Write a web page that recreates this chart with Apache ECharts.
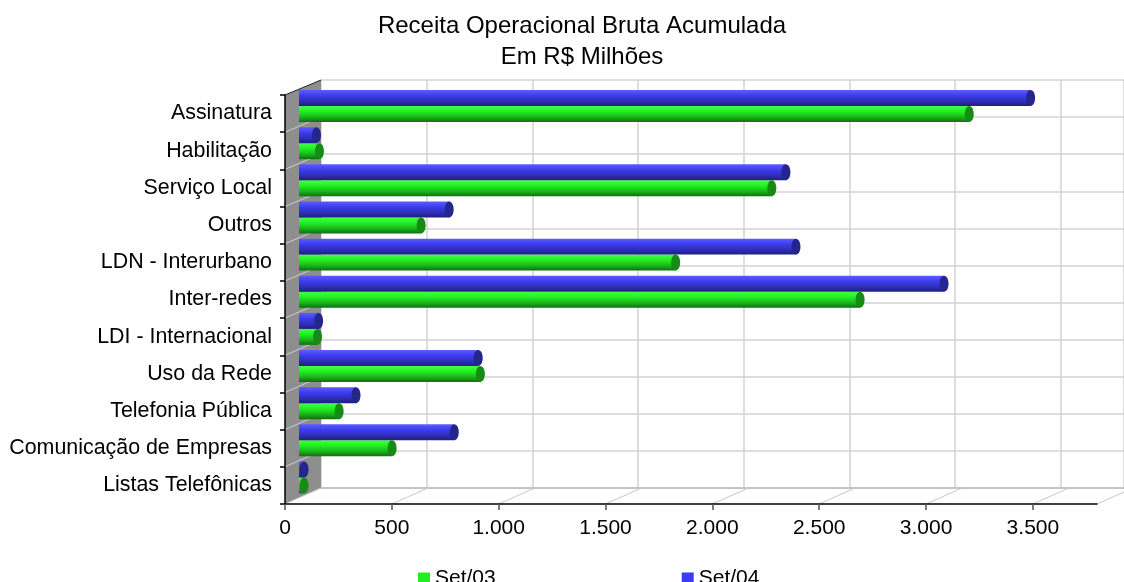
<!DOCTYPE html>
<html>
<head>
<meta charset="utf-8">
<script src="https://cdn.jsdelivr.net/npm/echarts@6/dist/echarts.min.js"></script>
<style>
html,body{margin:0;padding:0;background:#fff;}
#c{width:1124px;height:582px;}
</style>
</head>
<body>
<div id="c"></div>
<script>
// ---- data ----
const categories = ['Assinatura','Habilitação','Serviço Local','Outros','LDN - Interurbano','Inter-redes','LDI - Internacional','Uso da Rede','Telefonia Pública','Comunicação de Empresas','Listas Telefônicas'];
const set03 = [3118, 77, 2194, 553, 1744, 2607, 68, 830, 169, 417, 5];
const set04 = [3405, 63, 2260, 684, 2307, 3000, 73, 820, 248, 708, 5];
const xTicks = [0, 500, 1000, 1500, 2000, 2500, 3000, 3500];
const seriesNames = ['Set/03', 'Set/04'];

// ---- layout ----
const AX_MAX = 3800;
const FL = 285, FT = 95, FW = 812, FH = 409;       // front plane
const BL = 321, BT = 80, BW = 812, BH = 408;       // back wall
const ML = 303, MT = 87.5, MW = 812, MH = 408.5;   // bar plane (mid depth)
const FONT = '"Liberation Sans", Arial, sans-serif';

function fmt(v){ return String(v).replace(/\B(?=(\d{3})+(?!\d))/g, '.'); }

const sc = FW / AX_MAX;
const graphics = [];
// left side wall
graphics.push({type:'polygon', z:1, shape:{points:[[FL,FT],[BL,BT],[BL,BT+BH],[FL,FT+FH]]}, style:{fill:'#8e8e8e', stroke:null}});
// wall diagonals
for (let k = 1; k < categories.length; k++) {
  const yf = FT + k*FH/categories.length, yb = BT + k*BH/categories.length;
  graphics.push({type:'line', z:1, shape:{x1:FL,y1:yf,x2:BL,y2:yb}, style:{stroke:'#cfcfcf', lineWidth:1}});
}
// wall top edge
graphics.push({type:'line', z:1, shape:{x1:FL,y1:FT,x2:BL,y2:BT}, style:{stroke:'#222', lineWidth:1}});
// floor
graphics.push({type:'polygon', z:1, shape:{points:[[FL,FT+FH],[BL,BT+BH],[BL+FW+40,BT+BH],[FL+FW+40,FT+FH]]}, style:{fill:'#ffffff', stroke:null}});
graphics.push({type:'line', z:1, shape:{x1:BL,y1:BT+BH,x2:1124,y2:BT+BH}, style:{stroke:'#c4c4c4', lineWidth:2}});
graphics.push({type:'line', z:1, shape:{x1:FL,y1:FT+FH,x2:BL,y2:BT+BH}, style:{stroke:'#c8c8c8', lineWidth:1}});
xTicks.concat([AX_MAX]).forEach(v => {
  const xf = FL + v*sc;
  if (v === 0) return;
  graphics.push({type:'line', z:1, shape:{x1:xf,y1:FT+FH,x2:xf+(BL-FL),y2:BT+BH}, style:{stroke:'#c8c8c8', lineWidth:1}});
});

const colors = {
  'Set/03': {grad:['#44ff44','#22ee22','#1bb21b','#0f6f0f'], cap:'#168c16', legend:'#22ee22'},
  'Set/04': {grad:['#5c5cff','#3c3cee','#2e2eb6','#1f1f7e'], cap:'#25258c', legend:'#3c3cf0'}
};

function renderBar(params, api) {
  const name = seriesNames[params.seriesIndex];
  const v = api.value(0), c = api.value(1);
  const p = api.coord([v, c]);
  const p0 = api.coord([0, c]);
  const band = api.size([0, 1])[1];
  const h = band * 0.43;
  const sign = name === 'Set/04' ? -1 : 1;
  const yc = p[1] + sign * h / 2;
  const col = colors[name];
  const g = col.grad;
  const x0 = p0[0] - 4;
  return {
    type: 'group',
    children: [
      {type:'rect', shape:{x:x0, y:yc-h/2, width:Math.max(0,p[0]-x0), height:h},
       style:{fill:new echarts.graphic.LinearGradient(0,0,0,1,[
         {offset:0,color:g[0]},{offset:0.35,color:g[1]},{offset:0.7,color:g[2]},{offset:1,color:g[3]}])}},
      {type:'ellipse', shape:{cx:p[0], cy:yc, rx:4.5, ry:h/2}, style:{fill:col.cap}}
    ]
  };
}

const chart = echarts.init(document.getElementById('c'), null, {renderer:'canvas'});
chart.setOption({
  animation: false,
  backgroundColor: '#fff',
  title: {
    text: 'Receita Operacional Bruta Acumulada\nEm R$ Milhões',
    left: 577, top: 6, textAlign: 'center',
    textStyle: {fontFamily: FONT, fontSize: 24, fontWeight: 'normal', color: '#000', lineHeight: 31}
  },
  legend: {
    data: seriesNames.map(n => ({name:n, icon:'rect', itemStyle:{color:colors[n].legend}})),
    left: 413, top: 563, itemWidth: 12, itemHeight: 12, itemGap: 186,
    textStyle: {fontFamily: FONT, fontSize: 21, color: '#000'}
  },
  graphic: graphics,
  grid: [
    {left: BL, top: BT, width: BW, height: BH, containLabel: false},
    {left: FL, top: FT, width: FW, height: FH, containLabel: false},
    {left: ML, top: MT, width: MW, height: MH, containLabel: false}
  ],
  xAxis: [
    {gridIndex:0, type:'value', min:0, max:AX_MAX, interval:500,
     axisLine:{show:false}, axisTick:{show:false}, axisLabel:{show:false},
     splitLine:{show:true, lineStyle:{color:'#d2d2d2', width:1.5}}},
    {gridIndex:1, type:'value', min:0, max:AX_MAX, interval:500, z:6,
     axisLine:{show:true, lineStyle:{color:'#000', width:1.5}},
     axisTick:{show:true, length:6, lineStyle:{color:'#555', width:1.5}, customValues: xTicks},
     axisLabel:{show:true, margin:14, fontFamily:FONT, fontSize:21, color:'#000', customValues: xTicks, formatter: v => fmt(v)},
     splitLine:{show:false}},
    {gridIndex:2, type:'value', min:0, max:AX_MAX, show:false}
  ],
  yAxis: [
    {gridIndex:0, type:'category', data:categories, inverse:true,
     axisLine:{show:false}, axisTick:{show:false}, axisLabel:{show:false},
     splitLine:{show:true, lineStyle:{color:'#d2d2d2', width:1.5}}},
    {gridIndex:1, type:'category', data:categories, inverse:true, z:6,
     axisLine:{show:true, lineStyle:{color:'#000', width:1.5}},
     axisTick:{show:true, length:5, lineStyle:{color:'#000', width:1.5}},
     axisLabel:{show:true, margin:13, fontFamily:FONT, fontSize:21.4, color:'#000'},
     splitLine:{show:false}},
    {gridIndex:2, type:'category', data:categories, inverse:true, show:false}
  ],
  series: [
    {name:'Set/03', type:'custom', xAxisIndex:2, yAxisIndex:2, z:5, renderItem:renderBar,
     itemStyle:{color:colors['Set/03'].legend}, encode:{x:0, y:1},
     data: set03.map((v,i) => [v, i])},
    {name:'Set/04', type:'custom', xAxisIndex:2, yAxisIndex:2, z:5, renderItem:renderBar,
     itemStyle:{color:colors['Set/04'].legend}, encode:{x:0, y:1},
     data: set04.map((v,i) => [v, i])}
  ]
});
</script>
</body>
</html>
